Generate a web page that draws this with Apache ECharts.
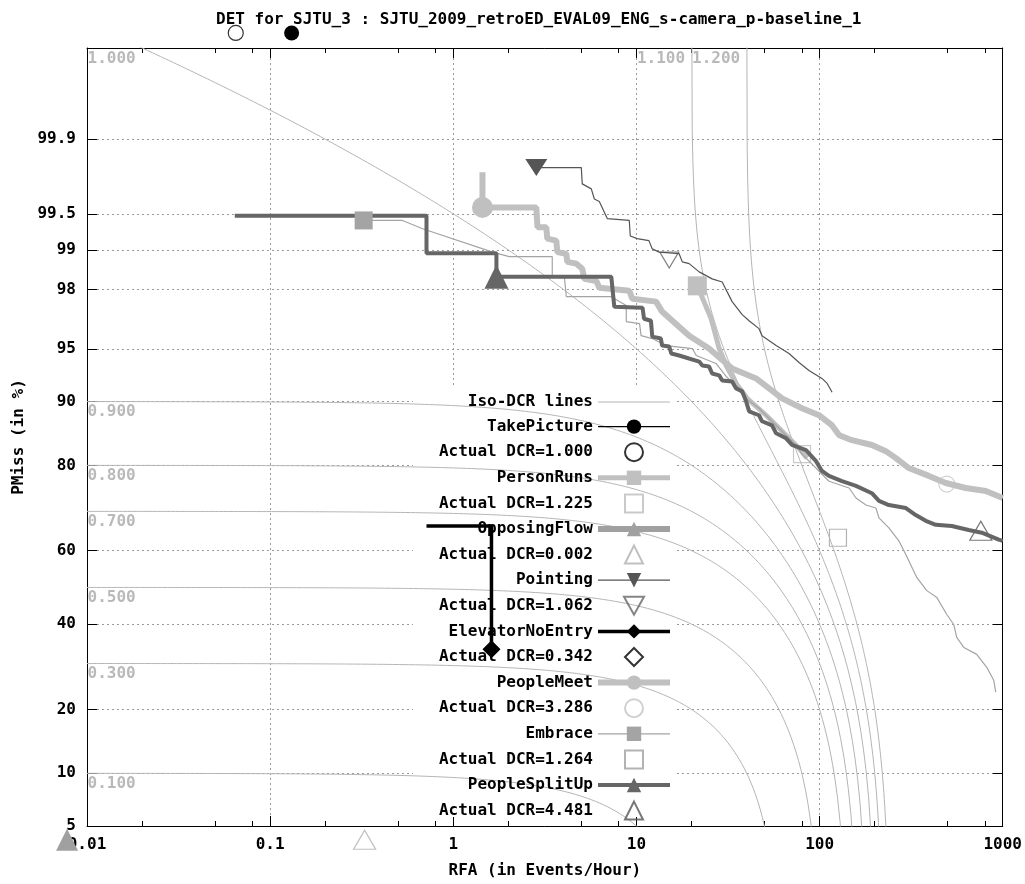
<!DOCTYPE html>
<html>
<head>
<meta charset="utf-8">
<title>DET for SJTU_3</title>
<script src="https://cdn.jsdelivr.net/npm/echarts@6/dist/echarts.min.js"></script>
<style>
  html, body { margin: 0; padding: 0; background: #fff; }
  #chart { width: 1025px; height: 884px; }
</style>
</head>
<body>
<div id="chart"></div>
<script>
// DET plot: x = RFA (events/hour, log), y = PMiss on a normal-deviate scale
const titleText = 'DET for SJTU_3 : SJTU_2009_retroED_EVAL09_ENG_s-camera_p-baseline_1';

// axis ticks
const rfaTicks = [0.01, 0.1, 1, 10, 100, 1000];
const rfaTickLabels = ['0.01', '0.1', '1', '10', '100', '1000'];
const rfaMinorTicks = [0.02, 0.05, 0.08, 0.2, 0.5, 0.8, 2, 5, 8, 20, 50, 80, 200, 500, 800];
const pmissTicks = [5, 10, 20, 40, 60, 80, 90, 95, 98, 99, 99.5, 99.9];
const pmissTickLabels = ['5', '10', '20', '40', '60', '80', '90', '95', '98', '99', '99.5', '99.9'];
const pmissMin = 5;
const pmissMax = 99.99;

// iso-DCR lines, DCR = PMiss + BETA * RFA
const BETA = 0.005;
const isoDCR = [0.1, 0.3, 0.5, 0.7, 0.8, 0.9, 1.0, 1.1, 1.2];
const isoLabelRFA = [0.01, 0.01, 0.01, 0.01, 0.01, 0.01, 0.01, 10, 20];

// DET curves (RFA, PMiss %)
const takePictureRFA = [0.131];
const takePicturePMiss = [99.9934];

const personRunsRFA = [21.5, 25.6, 28.3, 30.9, 35.0, 40.2, 51.0, 62.4, 77.2, 85.4];
const personRunsPMiss = [98.12, 96.8, 95.02, 93.70, 92.02, 90.38, 88.24, 85.93, 83.15, 81.37];

const opposingFlowRFA = [0.00778];
const opposingFlowPMiss = [4.1];

const pointingRFA = [2.84, 5.00, 5.06, 5.67, 5.89, 6.27, 6.93, 9.14, 9.25, 10.1,
  11.7, 12.2, 13.3, 17.1, 17.8, 19.4, 22.0, 25.9, 29.4, 31.3,
  33.3, 37.8, 41.2, 46.7, 48.5, 57.9, 68.1, 77.2, 87.5, 103, 110, 117];
const pointingPMiss = [99.81, 99.81, 99.73, 99.70, 99.63, 99.61, 99.45, 99.43, 99.23, 99.19,
  99.16, 99.02, 98.96, 98.93, 98.76, 98.72, 98.52, 98.33, 98.24, 97.92,
  97.56, 97.00, 96.70, 96.28, 95.87, 95.23, 94.66, 93.95, 93.27, 92.52, 92.02, 91.07];

const elevatorRFA = [0.714, 1.616, 1.616];
const elevatorPMiss = [66.4, 66.4, 33.5];

const peopleMeetRFA = [1.443, 1.443, 2.84, 2.88, 3.22, 3.26, 3.65, 3.70, 4.14, 4.19,
  4.70, 5.06, 5.19, 6.04, 6.27, 9.14, 9.49, 12.8, 13.8, 15.7,
  19.4, 24.9, 33.3, 45.0, 62.4, 80.2, 99.2, 117, 128, 150,
  193, 230, 261, 307, 395, 489, 628, 808, 1000];
const peopleMeetPMiss = [99.79, 99.56, 99.56, 99.35, 99.35, 99.19, 99.16, 98.96, 98.93, 98.76,
  98.72, 98.60, 98.33, 98.27, 98.06, 97.96, 97.67, 97.56, 97.14, 96.70,
  95.87, 95.02, 93.44, 92.52, 90.38, 89.16, 88.24, 86.8, 85.30, 84.50,
  83.7, 82.63, 81.37, 79.47, 77.9, 76.42, 75.35, 74.69, 73.13];

const embraceRFA = [0.324, 0.528, 0.680, 1.64, 2.02, 3.47, 3.47, 4.04, 4.14, 7.29,
  8.80, 8.80, 10.4, 10.6, 12.2, 14.5, 20.2, 21.2, 27.2, 30.9,
  36.4, 39.7, 46.7, 55.0, 65.6, 74.3, 80.2, 99.2, 112.5, 145,
  158, 179, 203, 211, 239, 271, 296, 340, 385, 437,
  495, 540, 561, 613, 721, 818, 893, 916];
const embracePMiss = [99.43, 99.43, 99.33, 98.96, 98.87, 98.87, 98.42, 98.39, 97.75, 97.75,
  97.40, 96.66, 96.55, 95.87, 95.69, 95.23, 95.02, 94.51, 93.87, 92.71,
  91.50, 90.38, 89.16, 87.4, 85.30, 83.7, 82.09, 78.9, 76.8, 75.35,
  73.13, 71.5, 70.8, 68.42, 65.94, 62.6, 58.91, 52.68, 49.12, 47.21,
  42.59, 39.92, 36.51, 33.96, 32.22, 29.09, 26.10, 23.50];

const splitUpRFA = [0.0641, 0.714, 0.714, 1.72, 1.72, 7.29, 7.57, 10.8, 11.0, 12.0,
  12.2, 13.6, 13.8, 15.1, 15.5, 17.1, 22.0, 22.9, 24.9, 25.9,
  28.3, 29.4, 33.3, 35.0, 37.8, 39.7, 41.2, 46.7, 48.5, 55.0,
  57.9, 65.6, 70.7, 84.3, 95.6, 103, 112.5, 132.5, 158, 193,
  211, 239, 296, 335, 380, 431, 527, 652, 768, 951, 1000];
const splitUpPMiss = [99.48, 99.48, 98.94, 98.94, 98.39, 98.39, 97.35, 97.31, 96.8, 96.7,
  95.81, 95.69, 95.23, 95.16, 94.66, 94.51, 94.03, 93.70, 93.62, 92.99,
  92.81, 92.32, 92.22, 91.50, 91.18, 90.02, 88.77, 88.24, 87.4, 86.8,
  85.6, 84.8, 83.7, 82.8, 80.8, 78.9, 77.9, 76.8, 75.8, 74.2,
  72.45, 71.5, 70.8, 69.1, 67.7, 66.7, 66.4, 65.4, 64.7, 62.9, 62.6];

// actual DCR points, one per event, same order as the curves
const actualLabels = ['Actual DCR=1.000', 'Actual DCR=1.225', 'Actual DCR=0.002', 'Actual DCR=1.062',
  'Actual DCR=0.342', 'Actual DCR=3.286', 'Actual DCR=1.264', 'Actual DCR=4.481'];
const actualRFA = [0.0649, 80.2, 0.328, 15.1, 1.62, 495, 126, 759];
const actualPMiss = [99.9934, 82.1, 4.1, 98.80, 33.5, 76.2, 63.4, 65.2];

const FONT = "'DejaVu Sans Mono', 'Liberation Mono', monospace";
const SQUARE = 'path://M0,0 L10,0 L10,10 L0,10 Z';
const TRIANGLE = 'path://M5,0 L10,10 L0,10 Z';
const INV_TRIANGLE = 'path://M0,0 L10,0 L5,9 Z';
const DIAMOND = 'path://M5,0 L10,5 L5,10 L0,5 Z';

// inverse normal CDF (Acklam)
function probit(p) {
  const a = [-3.969683028665376e+01, 2.209460984245205e+02, -2.759285104469687e+02, 1.383577518672690e+02, -3.066479806614716e+01, 2.506628277459239e+00];
  const b = [-5.447609879822406e+01, 1.615858368580409e+02, -1.556989798598866e+02, 6.680131188771972e+01, -1.328068155288572e+01];
  const c = [-7.784894002430293e-03, -3.223964580411365e-01, -2.400758277161838e+00, -2.549671350271233e+00, 4.374664141464968e+00, 2.938163982698783e+00];
  const d = [7.784695709041462e-03, 3.224671290700398e-01, 2.445134137142996e+00, 3.754408661907416e+00];
  const pl = 0.02425;
  let q, r;
  if (p < pl) {
    q = Math.sqrt(-2 * Math.log(p));
    return (((((c[0] * q + c[1]) * q + c[2]) * q + c[3]) * q + c[4]) * q + c[5]) / ((((d[0] * q + d[1]) * q + d[2]) * q + d[3]) * q + 1);
  }
  if (p > 1 - pl) {
    q = Math.sqrt(-2 * Math.log(1 - p));
    return -(((((c[0] * q + c[1]) * q + c[2]) * q + c[3]) * q + c[4]) * q + c[5]) / ((((d[0] * q + d[1]) * q + d[2]) * q + d[3]) * q + 1);
  }
  q = p - 0.5;
  r = q * q;
  return (((((a[0] * r + a[1]) * r + a[2]) * r + a[3]) * r + a[4]) * r + a[5]) * q / (((((b[0] * r + b[1]) * r + b[2]) * r + b[3]) * r + b[4]) * r + 1);
}

const zOf = pct => probit(pct / 100);
const zTicks = pmissTicks.map(zOf);
const zMin = zOf(pmissMin);
const zMax = zOf(pmissMax);

function toPoints(rfa, pmiss) {
  return rfa.map((r, i) => [r, zOf(pmiss[i])]);
}

// iso-DCR curve from the point where it leaves 100% down to 1% (below the plot)
function isoCurve(dcr) {
  const r0 = Math.log10(Math.max(0.01, (dcr - 0.99999) / BETA));
  const r1 = Math.log10((dcr - 0.01) / BETA);
  const pts = [];
  for (let k = 0; k <= 300; k++) {
    const r = Math.pow(10, r0 + (r1 - r0) * k / 300);
    pts.push([r, probit(dcr - BETA * r)]);
  }
  return pts;
}

const curves = [
  { name: 'TakePicture', rfa: takePictureRFA, pmiss: takePicturePMiss, color: '#000000', width: 1.2, symbol: 'circle', size: 15, mark: 0, clip: false,
    actualSymbol: 'circle', actualSize: 15, actualColor: '#000000' },
  { name: 'PersonRuns', rfa: personRunsRFA, pmiss: personRunsPMiss, color: '#c0c0c0', width: 5, symbol: 'rect', size: 19, mark: 0, clip: true,
    actualSymbol: SQUARE, actualSize: 17, actualColor: '#bdbdbd' },
  { name: 'OpposingFlow', rfa: opposingFlowRFA, pmiss: opposingFlowPMiss, color: '#a0a0a0', width: 6, symbol: 'triangle', size: 22, mark: 0, clip: false,
    actualSymbol: TRIANGLE, actualSize: [22, 19], actualColor: '#b0b0b0' },
  { name: 'Pointing', rfa: pointingRFA, pmiss: pointingPMiss, color: '#555555', width: 1.2, symbol: INV_TRIANGLE, size: [22, 17], mark: 0, clip: true,
    actualSymbol: INV_TRIANGLE, actualSize: [19, 16], actualColor: '#666666' },
  { name: 'ElevatorNoEntry', rfa: elevatorRFA, pmiss: elevatorPMiss, color: '#000000', width: 3.5, symbol: 'diamond', size: 18, mark: 2, clip: true,
    actualSymbol: DIAMOND, actualSize: 15, actualColor: '#000000' },
  { name: 'PeopleMeet', rfa: peopleMeetRFA, pmiss: peopleMeetPMiss, color: '#c0c0c0', width: 6, symbol: 'circle', size: 21, mark: 1, clip: true,
    actualSymbol: 'circle', actualSize: 16, actualColor: '#c4c4c4' },
  { name: 'Embrace', rfa: embraceRFA, pmiss: embracePMiss, color: '#a4a4a4', width: 1.2, symbol: 'rect', size: 18, mark: 0, clip: true,
    actualSymbol: SQUARE, actualSize: 17, actualColor: '#a0a0a0' },
  { name: 'PeopleSplitUp', rfa: splitUpRFA, pmiss: splitUpPMiss, color: '#666666', width: 4, symbol: 'triangle', size: 24, mark: 4, clip: true,
    actualSymbol: TRIANGLE, actualSize: [22, 19], actualColor: '#555555' }
];

const series = [];
isoDCR.forEach(dcr => {
  series.push({
    type: 'line',
    name: 'Iso-DCR lines',
    data: isoCurve(dcr),
    symbol: 'none',
    silent: true,
    lineStyle: { color: '#b4b4b4', width: 1 },
    itemStyle: { color: '#b4b4b4' }
  });
});
series.push({
  type: 'scatter',
  name: 'isoLabels',
  silent: true,
  clip: false,
  symbolSize: 1,
  itemStyle: { color: 'rgba(0,0,0,0)' },
  data: isoDCR.map((dcr, i) => [isoLabelRFA[i], zOf(Math.min(100 * (dcr - BETA * isoLabelRFA[i]), pmissMax))]),
  label: {
    show: true,
    position: [1, 3],
    align: 'left',
    verticalAlign: 'top',
    formatter: p => isoDCR[p.dataIndex].toFixed(3),
    color: '#a8a8a8',
    fontFamily: FONT,
    fontWeight: 'bold',
    fontSize: 16
  }
});

const legendData = [{ name: 'Iso-DCR lines', itemStyle: { opacity: 0 } }];
curves.forEach((c, i) => {
  series.push({
    type: 'line',
    name: c.name,
    data: toPoints(c.rfa, c.pmiss),
    symbol: c.symbol,
    symbolSize: (v, p) => (p.dataIndex === c.mark ? c.size : 0),
    showAllSymbol: true,
    clip: c.clip,
    silent: true,
    lineStyle: { color: c.color, width: c.width },
    itemStyle: { color: c.color }
  });
  series.push({
    type: 'scatter',
    name: actualLabels[i],
    data: [[actualRFA[i], zOf(actualPMiss[i])]],
    symbol: c.actualSymbol,
    symbolSize: c.actualSize,
    clip: false,
    silent: true,
    itemStyle: { color: 'rgba(255,255,255,0)', borderColor: c.actualColor, borderWidth: 1.2 }
  });
  legendData.push(c.name, actualLabels[i]);
});

const tickText = { fontFamily: FONT, fontWeight: 'bold', fontSize: 16, color: '#000' };
const gridLine = { show: true, lineStyle: { color: '#9a9a9a', width: 1, type: [2, 3] } };
const axisBlack = { show: true, onZero: false, lineStyle: { color: '#000', width: 1 } };
const majorTick = { show: true, inside: true, length: 10, lineStyle: { color: '#000' } };
const minorTick = { show: true, inside: true, length: 5, customValues: rfaMinorTicks.map(Math.log10), lineStyle: { color: '#000' } };

const option = {
  animation: false,
  backgroundColor: '#fff',
  textStyle: { fontFamily: FONT },
  title: {
    text: titleText,
    left: 216,
    top: 12,
    padding: 0,
    textStyle: { fontFamily: FONT, fontWeight: 'bold', fontSize: 16, color: '#000' }
  },
  grid: { left: 87, right: 21, top: 48, bottom: 55 },
  // key area hides the grid, as in the original plot
  graphic: [{
    type: 'rect',
    z: 1,
    silent: true,
    shape: { x: 413, y: 388, width: 264, height: 429 },
    style: { fill: '#fff' }
  }],
  legend: {
    orient: 'vertical',
    align: 'right',
    right: 352,
    top: 393,
    padding: 0,
    itemWidth: 72,
    itemHeight: 18,
    itemGap: 6.6,
    selectedMode: false,
    lineStyle: { width: 'inherit' },
    textStyle: { fontFamily: FONT, fontWeight: 'bold', fontSize: 16, color: '#000', lineHeight: 18 },
    data: legendData
  },
  xAxis: [
    {
      type: 'log', logBase: 10, min: rfaTicks[0], max: rfaTicks[rfaTicks.length - 1], position: 'bottom',
      axisLine: axisBlack,
      axisTick: majorTick,
      axisLabel: {
        margin: 11, ...tickText,
        formatter: v => rfaTickLabels[Math.round(Math.log10(v)) + 2]
      },
      splitLine: gridLine,
      name: 'RFA (in Events/Hour)', nameLocation: 'middle', nameGap: 37,
      nameTextStyle: tickText
    },
    {
      type: 'log', logBase: 10, min: rfaTicks[0], max: rfaTicks[rfaTicks.length - 1], position: 'top',
      axisLine: axisBlack,
      axisTick: majorTick,
      axisLabel: { show: false },
      splitLine: { show: false }
    },
    {
      type: 'value', min: -2, max: 3, position: 'bottom',
      axisLine: { show: false, onZero: false },
      axisTick: minorTick,
      axisLabel: { show: false },
      splitLine: { show: false }
    },
    {
      type: 'value', min: -2, max: 3, position: 'top',
      axisLine: { show: false, onZero: false },
      axisTick: minorTick,
      axisLabel: { show: false },
      splitLine: { show: false }
    }
  ],
  yAxis: [
    {
      type: 'value', min: zMin, max: zMax, position: 'left',
      axisLine: axisBlack,
      axisTick: { ...majorTick, customValues: zTicks },
      axisLabel: {
        margin: 11, ...tickText,
        customValues: zTicks,
        formatter: v => {
          const i = zTicks.findIndex(t => Math.abs(t - v) < 1e-6);
          return i >= 0 ? pmissTickLabels[i] : '';
        }
      },
      splitLine: gridLine,
      name: 'PMiss (in %)', nameLocation: 'middle', nameGap: 59, nameRotate: 90,
      nameTextStyle: tickText
    },
    {
      type: 'value', min: zMin, max: zMax, position: 'right',
      axisLine: axisBlack,
      axisTick: { ...majorTick, customValues: zTicks },
      axisLabel: { show: false },
      splitLine: { show: false }
    }
  ],
  series: series
};

const chart = echarts.init(document.getElementById('chart'), null, { renderer: 'canvas' });
chart.setOption(option);
</script>
</body>
</html>
